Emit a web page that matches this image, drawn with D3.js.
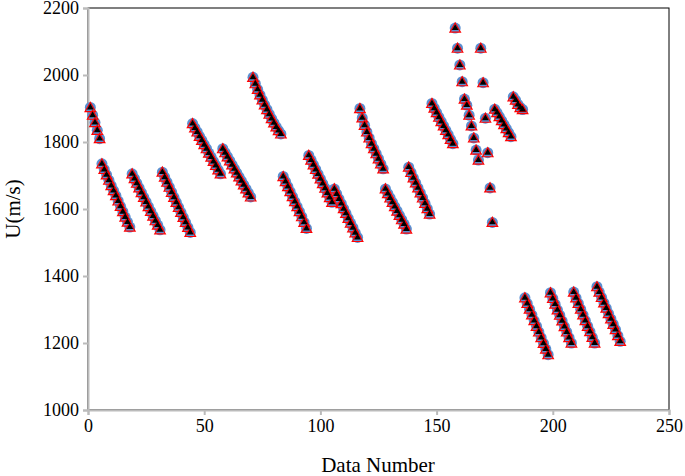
<!DOCTYPE html><html><head><script src="https://cdn.jsdelivr.net/npm/d3@7"></script>
<style>body{margin:0;background:#fff}</style></head><body><svg id="c" width="685" height="476"></svg>
<script>
const values=[1903,1880,1858,1835,1810,
1735,1718,1702,1686,1670,1655,1640,1624,1608,1592,1576,1561,1546,
1705,1691,1677,1663,1649,1635,1621,1607,1593,1579,1565,1552,1538,
1710,1695,1680,1665,1650,1635,1620,1605,1590,1575,1560,1545,1530,
1855,1842,1830,1817,1805,1792,1780,1767,1755,1742,1730,1717,1705,
1780,1768,1756,1744,1732,1720,1708,1696,1684,1672,1660,1648,1636,
1993,1974,1957,1941,1926,1911,1897,1883,1870,1857,1845,1834,1824,
1697,1682,1667,1652,1637,1622,1607,1592,1577,1560,1542,
1760,1746,1732,1718,1704,1690,1676,1662,1648,1634,1620,
1660,1645,1630,1616,1601,1587,1572,1558,1544,1529,1515,
1900,1872,1850,1830,1812,1795,1780,1765,1750,1735,1720,
1660,1646,1633,1620,1607,1594,1581,1568,1555,1540,
1725,1709,1693,1678,1663,1648,1633,1617,1601,1585,
1915,1901,1888,1874,1861,1848,1835,1822,1808,1795,
2140,2080,2030,1980,1928,1910,1880,1848,1812,1776,1746,
2080,1977,1871,1768,1663,1560,
1898,1888,1876,1864,1852,1840,1828,1816,
1935,1925,1912,1903,1897,
1335,1318,1301,1284,1267,1250,1233,1216,1199,1182,1165,
1350,1333,1316,1299,1283,1266,1249,1233,1216,1200,
1352,1335,1318,1301,1284,1267,1250,1234,1217,1200,
1368,1352,1336,1320,1304,1288,1272,1256,1240,1222,1205];
const xTicks=[0,50,100,150,200,250];
const yTicks=[1000,1200,1400,1600,1800,2000,2200];
const data=values.map((v,i)=>({n:i+1,v}));
const svg=d3.select("#c");
const x=d3.scaleLinear().domain([0,250]).range([88,669]);
const y=d3.scaleLinear().domain([1000,2200]).range([410,8]);
svg.append("rect").attr("x",88).attr("y",8).attr("width",581).attr("height",402).attr("fill","none").attr("stroke","#000").attr("stroke-width",1);
const font="Liberation Serif, Times New Roman, serif";
const gx=svg.append("g").attr("transform","translate(0,410)").call(d3.axisBottom(x).tickValues(xTicks).tickFormat(d3.format("d")).tickSize(5).tickPadding(4));
const gy=svg.append("g").attr("transform","translate(88,0)").call(d3.axisLeft(y).tickValues(yTicks).tickFormat(d3.format("d")).tickSize(5).tickPadding(4));
[gx,gy].forEach(g=>{g.selectAll("text").attr("font-family",font).attr("font-size",18).attr("fill","#000");g.select(".domain").attr("stroke","#bbb").attr("stroke-width",2);g.selectAll("line").attr("stroke","#bbb").attr("stroke-width",2);});
svg.append("text").attr("x",378).attr("y",472).attr("text-anchor","middle").attr("font-family",font).attr("font-size",21).text("Data Number");
svg.append("text").attr("transform","translate(20,209) rotate(-90)").attr("text-anchor","middle").attr("font-family",font).attr("font-size",21).text("U(m/s)");
const g=svg.append("g");
g.selectAll("circle").data(data).join("circle").attr("cx",d=>x(d.n)).attr("cy",d=>y(d.v)).attr("r",5.5).attr("fill","#5b8fd0");
const tri=(s)=>d3.symbol().type(d3.symbolTriangle).size(s)();
g.selectAll("path.r").data(data).join("path").attr("class","r").attr("transform",d=>`translate(${x(d.n)},${y(d.v)+1})`).attr("d",tri(48)).attr("fill","none").attr("stroke","#f00").attr("stroke-width",1.2);
g.selectAll("path.k").data(data).join("path").attr("class","k").attr("transform",d=>`translate(${x(d.n)},${y(d.v)})`).attr("d",tri(20)).attr("fill","#000");
</script></body></html>
